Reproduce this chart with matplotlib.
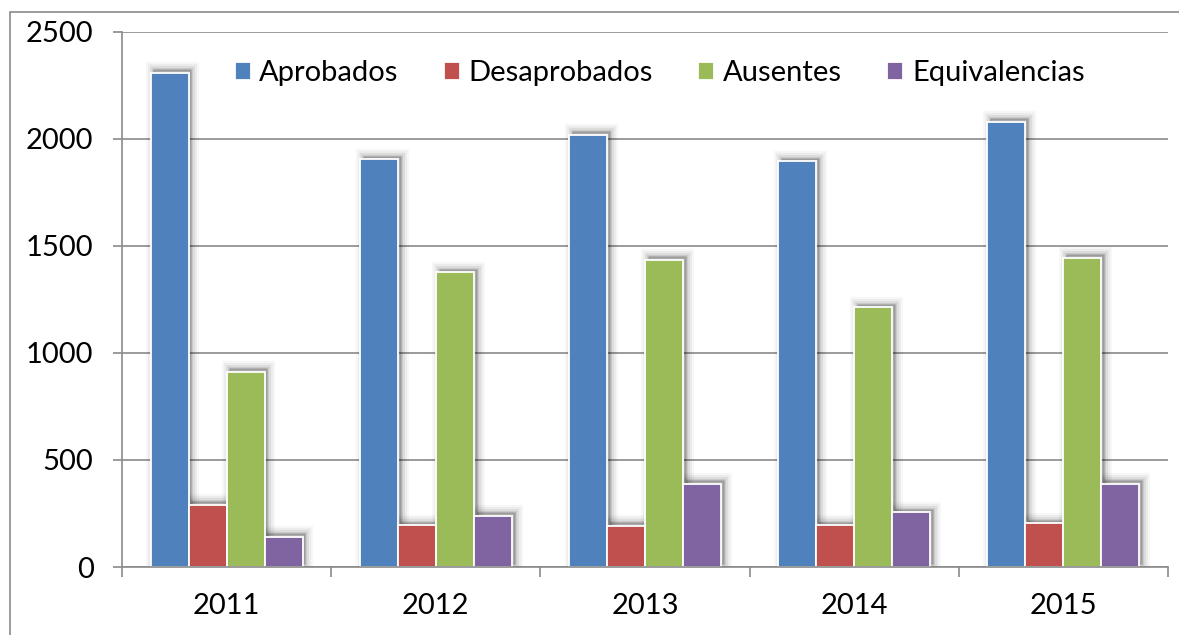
import numpy as np
import matplotlib
matplotlib.use("Agg")
import matplotlib.pyplot as plt
from matplotlib import patheffects as pe
from matplotlib.patches import Rectangle

# values
years = ["2011", "2012", "2013", "2014", "2015"]
aprobados = [2310, 1905, 2020, 1895, 2080]
desaprobados = [290, 196, 192, 196, 205]
ausentes = [912, 1378, 1435, 1215, 1445]
equivalencias = [142, 240, 388, 255, 388]

series = [
    ("Aprobados", aprobados, "#4F81BD"),
    ("Desaprobados", desaprobados, "#C0504D"),
    ("Ausentes", ausentes, "#9BBB59"),
    ("Equivalencias", equivalencias, "#8064A2"),
]

GRAY = "#8a8a8a"
FONT = 21
plt.rcParams["font.family"] = ["Lato", "DejaVu Sans"]

fig = plt.figure(figsize=(11.79, 6.35), dpi=100)
ax = fig.add_axes([122 / 1179, 1 - 567 / 635, 1046 / 1179, 535 / 635])

# outer chart border (runs off the right and bottom edges)
fig.patches.append(Rectangle((10 / 1179, -0.1), 1.2, 0.1 + 1 - 12 / 635,
                             transform=fig.transFigure, fill=False,
                             edgecolor=GRAY, linewidth=1.2))

x = np.arange(len(years))
width = 1 / 5.5
offsets = (np.arange(len(series)) - 1.5) * width

# soft shadows first, all behind the bars
shadow_fx = [pe.Stroke(offset=(2, 2.5), linewidth=w, foreground="black", alpha=a)
             for w, a in [(11, 0.03), (8, 0.045), (5, 0.065), (2, 0.09)]]
for (name, vals, col), off in zip(series, offsets):
    sb = ax.bar(x + off, vals, width, color="black", zorder=1.5)
    for p in sb:
        p.set_path_effects(shadow_fx)

for (name, vals, col), off in zip(series, offsets):
    ax.bar(x + off, vals, width, color=col, edgecolor="white",
           linewidth=1.3, label=name, zorder=2)

ax.set_xlim(-0.5, 4.5)
ax.set_ylim(0, 2500)
ax.set_yticks(np.arange(0, 2501, 500))
ax.yaxis.grid(True, color=GRAY, linewidth=1.2)
ax.set_axisbelow(True)

ax.set_xticks(np.arange(-0.5, 4.6, 1))
ax.set_xticklabels([])
ax.set_xticks(x, minor=True)
ax.set_xticklabels(years, minor=True)
ax.tick_params(axis="x", which="major", length=7, width=1.2, color=GRAY)
ax.tick_params(axis="x", which="minor", length=0, pad=19, labelsize=FONT)
ax.tick_params(axis="y", length=6.5, width=1.2, color=GRAY, pad=14, labelsize=FONT)

for s in ["top", "right"]:
    ax.spines[s].set_visible(False)
for s in ["left", "bottom"]:
    ax.spines[s].set_color(GRAY)
    ax.spines[s].set_linewidth(1.2)

ax.legend(loc="center", bbox_to_anchor=(0.514, 0.923), ncol=4, frameon=False,
          fontsize=FONT, handlelength=0.55, handleheight=0.55,
          handletextpad=0.3, columnspacing=1.55)

fig.savefig("out.png", dpi=100)
